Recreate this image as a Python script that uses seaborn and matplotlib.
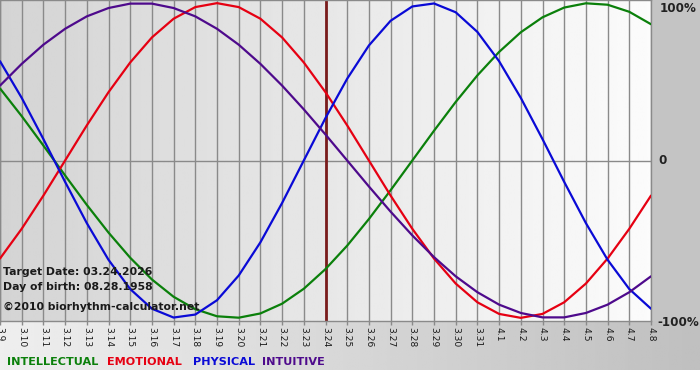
import numpy as np
import pandas as pd
import matplotlib
matplotlib.use("Agg")
import matplotlib.pyplot as plt
from matplotlib.patches import Rectangle
import seaborn as sns

# days shown on the x axis (month.day)
day_labels = ["3.9", "3.10", "3.11", "3.12", "3.13", "3.14", "3.15", "3.16", "3.17",
              "3.18", "3.19", "3.20", "3.21", "3.22", "3.23", "3.24", "3.25", "3.26",
              "3.27", "3.28", "3.29", "3.30", "3.31", "4.1", "4.2", "4.3", "4.4",
              "4.5", "4.6", "4.7", "4.8"]
target_day = "3.24"

# cycle values (-1 .. 1) read per day
intellectual = [0.458, 0.282, 0.095, -0.095, -0.282, -0.458, -0.618, -0.756, -0.866,
                -0.945, -0.990, -0.999, -0.972, -0.910, -0.815, -0.690, -0.541, -0.372,
                -0.189, 0.0, 0.189, 0.372, 0.541, 0.690, 0.815, 0.910, 0.972, 0.999,
                0.990, 0.945, 0.866]
emotional = [-0.623, -0.434, -0.223, 0.0, 0.223, 0.434, 0.623, 0.782, 0.901, 0.975,
             1.0, 0.975, 0.901, 0.782, 0.623, 0.434, 0.223, 0.0, -0.223, -0.434,
             -0.623, -0.782, -0.901, -0.975, -1.0, -0.975, -0.901, -0.782, -0.623,
             -0.434, -0.223]
physical = [0.631, 0.398, 0.136, -0.136, -0.398, -0.631, -0.817, -0.942, -0.998,
            -0.979, -0.888, -0.731, -0.520, -0.270, 0.0, 0.270, 0.520, 0.731, 0.888,
            0.979, 0.998, 0.942, 0.817, 0.631, 0.398, 0.136, -0.136, -0.398, -0.631,
            -0.817, -0.942]
intuitive = [0.476, 0.614, 0.736, 0.837, 0.916, 0.969, 0.997, 0.997, 0.969, 0.916,
             0.837, 0.736, 0.614, 0.476, 0.325, 0.165, 0.0, -0.165, -0.325, -0.476,
             -0.614, -0.736, -0.837, -0.916, -0.969, -0.997, -0.997, -0.969, -0.916,
             -0.837, -0.736]

cycles = ["INTELLECTUAL", "EMOTIONAL", "PHYSICAL", "INTUITIVE"]
colors = {"INTELLECTUAL": "#0b800b", "EMOTIONAL": "#e60012",
          "PHYSICAL": "#0a0ad6", "INTUITIVE": "#4e0a8c"}

n = len(day_labels)
df = pd.DataFrame({
    "day": list(range(n)) * 4,
    "value": intellectual + emotional + physical + intuitive,
    "cycle": [c for c in cycles for _ in range(n)],
})

sns.set_style("white")
plt.rcParams["font.family"] = ["DejaVu Sans"]

W, H = 700, 380
fig = plt.figure(figsize=(7, 3.8), dpi=100, facecolor="white")

# background panels in pixel coordinates
bg = fig.add_axes([0, 0, 1, 1], zorder=0)
bg.set_xlim(0, W)
bg.set_ylim(H, 0)
bg.axis("off")
bottom_grad = np.linspace(0.935, 0.75, 256)[None, :]
bg.imshow(bottom_grad, extent=(0, W, 370, 321), cmap="gray", vmin=0, vmax=1,
          aspect="auto")
bg.add_patch(Rectangle((651, 0), W - 651, 321, color="#c4c4c4", lw=0))
bg.set_xlim(0, W)
bg.set_ylim(H, 0)

ax = fig.add_axes([0, 1 - 321 / H, 651 / W, 321 / H], zorder=1)
plot_grad = np.linspace(0.83, 0.985, 256)[None, :]
ax.imshow(plot_grad, extent=(0, n - 1, -1.02, 1.02), cmap="gray", vmin=0, vmax=1,
          aspect="auto", zorder=0)

for i in range(n):
    ax.axvline(i, color="#8a8a8a", lw=1, zorder=1)
ax.axhline(0, color="#8a8a8a", lw=1, zorder=1)
ax.axvline(day_labels.index(target_day), color="#7a1c1c", lw=2, zorder=2)

sns.lineplot(data=df, x="day", y="value", hue="cycle", hue_order=cycles,
             palette=colors, linewidth=1.6, legend=False, ax=ax, zorder=3)

ax.set_xlim(0, n - 1)
ax.set_ylim(-1.02, 1.02)
ax.set_xticks(range(n))
ax.set_xticklabels(day_labels, rotation=-90, fontsize=6.6, color="#1a1a1a")
ax.set_yticks([])
ax.tick_params(axis="x", length=3, width=1, color="#8a8a8a", pad=1.5, bottom=True)
ax.set_xlabel("")
ax.set_ylabel("")
for s in ax.spines.values():
    s.set_color("#8a8a8a")
    s.set_linewidth(1)

def px_text(x, y, s, **kw):
    fig.text(x / W, 1 - y / H, s, va="center", ha="left", **kw)

# info text on the plot
info_kw = dict(fontsize=7.8, fontweight="bold", color="#1a1a1a", zorder=5)
px_text(3, 272, "Target Date: 03.24.2026", **info_kw)
px_text(3, 287, "Day of birth: 08.28.1958", **info_kw)
px_text(3, 307, "\u00a92010 biorhythm-calculator.net", **info_kw)

# right side percent labels
right_kw = dict(fontsize=8.6, fontweight="bold", color="#222222")
px_text(660, 8, "100%", **right_kw)
px_text(658, 161, "0", **right_kw)
px_text(657, 322, "-100%", **right_kw)

# legend line
legend_x = [7, 107, 193, 262]
for name, x in zip(cycles, legend_x):
    px_text(x, 362, name, fontsize=8.1, fontweight="bold", color=colors[name])

fig.savefig("out.png", dpi=100, facecolor="white")
